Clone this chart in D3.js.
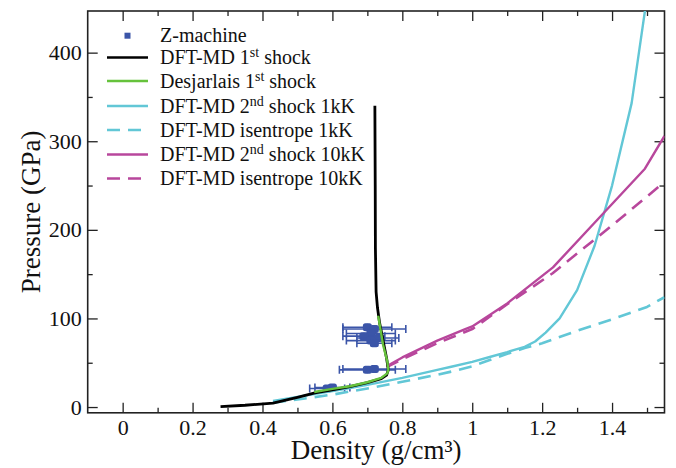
<!DOCTYPE html>
<html>
<head>
<meta charset="utf-8">
<script src="https://cdn.jsdelivr.net/npm/d3@7"></script>
<style>
  body { margin: 0; background: #fff; }
  svg { font-family: "Liberation Serif", "DejaVu Serif", serif; }
</style>
</head>
<body>
<svg></svg>
<script>
// ---- data (density g/cm3, pressure GPa) ----
const zDensity = [0.585, 0.6, 0.70, 0.72, 0.70, 0.72, 0.71, 0.69, 0.73, 0.71, 0.72];
const zPressure = [21, 22, 42, 43, 90, 88, 83, 80, 78, 75, 72];
const zDensityErr = [0.05, 0.05, 0.08, 0.09, 0.07, 0.09, 0.07, 0.06, 0.06, 0.07, 0.05];

const shock1 = [[0.28, 0.5], [0.35, 2], [0.43, 4.5], [0.5, 11], [0.55, 16], [0.6, 19.5],
  [0.65, 23], [0.7, 27.5], [0.74, 32], [0.755, 36], [0.76, 42], [0.755, 55], [0.745, 75],
  [0.735, 95], [0.729, 112], [0.725, 130], [0.723, 180], [0.7225, 250], [0.7215, 340]];
const desjarlais = [[0.548, 17], [0.6, 20.5], [0.65, 23.5], [0.7, 28], [0.74, 33],
  [0.757, 38], [0.76, 42], [0.757, 51.5], [0.745, 70], [0.731, 103]];
const shock2_1kK = [[0.43, 7], [0.5, 11.5], [0.6, 18], [0.65, 21.5], [0.7, 25], [0.8, 33],
  [0.9, 42], [0.94, 45.5], [1.0, 51], [1.05, 56.5], [1.1, 62], [1.15, 68], [1.18, 74],
  [1.21, 84], [1.25, 100], [1.3, 132], [1.35, 182], [1.4, 250], [1.456, 343], [1.494, 447],
  [1.5, 460]];
const isen_1kK = [[0.43, 5], [0.5, 8.5], [0.6, 14], [0.65, 17.5], [0.7, 21], [0.8, 28.5],
  [0.9, 36.5], [0.94, 40], [1.0, 46], [1.05, 53], [1.1, 60], [1.15, 66.5], [1.2, 72],
  [1.3, 86], [1.4, 99], [1.5, 113], [1.55, 124]];
const shock2_10kK = [[0.755, 46], [0.8, 56], [0.9, 75], [0.98, 88], [1.0, 91], [1.1, 117],
  [1.231, 157.6], [1.35, 208], [1.494, 269], [1.55, 306]];
const isen_10kK = [[0.755, 45], [0.8, 54], [0.9, 72], [1.0, 88], [1.1, 116], [1.23, 151],
  [1.4, 205], [1.55, 254]];

const legendLabels = [
  ["Z-machine"],
  ["DFT-MD 1", "st", " shock"],
  ["Desjarlais 1", "st", " shock"],
  ["DFT-MD 2", "nd", " shock 1kK"],
  ["DFT-MD isentrope 1kK"],
  ["DFT-MD 2", "nd", " shock 10kK"],
  ["DFT-MD isentrope 10kK"]
];
const xTicks = [0, 0.2, 0.4, 0.6, 0.8, 1, 1.2, 1.4];
const xMinor = [0.1, 0.3, 0.5, 0.7, 0.9, 1.1, 1.3, 1.5];
const yTicks = [0, 100, 200, 300, 400];
const yMinor = [50, 150, 250, 350];

const width = 676;
const height = 468;
const margin = { top: 11, right: 11.5, bottom: 55.2, left: 87.7 };
const innerWidth = width - margin.left - margin.right;
const innerHeight = height - margin.top - margin.bottom;

const blue = "#3b55a8";
const green = "#66c23c";
const cyan = "#62c7d6";
const magenta = "#b8479c";
const serif = "'Liberation Serif', 'DejaVu Serif', serif";

const svg = d3.select("svg").attr("width", width).attr("height", height);

const xScale = d3.scaleLinear().domain([-0.1, 1.55]).range([0, innerWidth]);
const yScale = d3.scaleLinear().domain([-6.5, 447]).range([innerHeight, 0]);

const g = svg.append("g")
  .attr("transform", `translate(${margin.left},${margin.top})`);

g.append("clipPath").attr("id", "plot-clip")
  .append("rect").attr("width", innerWidth).attr("height", innerHeight);

// axes: ticks point inward on all four sides
const axisStyle = (sel) => {
  sel.attr("font-family", serif);
  sel.select(".domain").remove();
  sel.selectAll(".tick line").attr("stroke", "#222").attr("stroke-width", 1.3);
  sel.selectAll("text").attr("font-size", 22).attr("fill", "#111");
};
// tick marks only, no labels
const tickOnly = (sel) => {
  axisStyle(sel);
  sel.selectAll("text").remove();
};
const fmt = (d) => d3.format("~g")(d);

g.append("g").attr("transform", `translate(0,${innerHeight})`)
  .call(d3.axisBottom(xScale).tickValues(xTicks).tickSizeInner(-10).tickSizeOuter(0)
    .tickPadding(7).tickFormat(fmt))
  .call(axisStyle);
g.append("g").attr("transform", `translate(0,${innerHeight})`)
  .call(d3.axisBottom(xScale).tickValues(xMinor).tickSizeInner(-5))
  .call(tickOnly);
g.append("g")
  .call(d3.axisTop(xScale).tickValues(xTicks).tickSizeInner(-10))
  .call(tickOnly);
g.append("g")
  .call(d3.axisTop(xScale).tickValues(xMinor).tickSizeInner(-5))
  .call(tickOnly);

g.append("g")
  .call(d3.axisLeft(yScale).tickValues(yTicks).tickSizeInner(-10).tickPadding(6).tickFormat(fmt))
  .call(axisStyle);
g.append("g")
  .call(d3.axisLeft(yScale).tickValues(yMinor).tickSizeInner(-5))
  .call(tickOnly);
g.append("g").attr("transform", `translate(${innerWidth},0)`)
  .call(d3.axisRight(yScale).tickValues(yTicks).tickSizeInner(-10))
  .call(tickOnly);
g.append("g").attr("transform", `translate(${innerWidth},0)`)
  .call(d3.axisRight(yScale).tickValues(yMinor).tickSizeInner(-5))
  .call(tickOnly);

// frame
g.append("rect")
  .attr("width", innerWidth).attr("height", innerHeight)
  .attr("fill", "none").attr("stroke", "#222").attr("stroke-width", 1.6);

// Z-machine points with horizontal error bars
const pts = g.append("g").attr("clip-path", "url(#plot-clip)");
const cap = 4;
zDensity.forEach((d, i) => {
  const cx = xScale(d);
  const cy = yScale(zPressure[i]);
  const x0 = xScale(d - zDensityErr[i]);
  const x1 = xScale(d + zDensityErr[i]);
  pts.append("line").attr("x1", x0).attr("x2", x1).attr("y1", cy).attr("y2", cy)
    .attr("stroke", blue).attr("stroke-width", 1.6);
  [x0, x1].forEach((x) => {
    pts.append("line").attr("x1", x).attr("x2", x).attr("y1", cy - cap).attr("y2", cy + cap)
      .attr("stroke", blue).attr("stroke-width", 1.6);
  });
  pts.append("line").attr("x1", cx).attr("x2", cx).attr("y1", cy - 3.5).attr("y2", cy + 3.5)
    .attr("stroke", blue).attr("stroke-width", 1.6);
  pts.append("rect").attr("x", cx - 4.5).attr("y", cy - 4).attr("width", 9).attr("height", 8)
    .attr("rx", 2.5).attr("fill", blue);
});

// curves
const line = d3.line().x((d) => xScale(d[0])).y((d) => yScale(d[1]));
const curves = [
  { data: isen_1kK, color: cyan, dash: "13,8", w: 2.6 },
  { data: shock2_1kK, color: cyan, dash: null, w: 2.4 },
  { data: isen_10kK, color: magenta, dash: "13,8", w: 2.6 },
  { data: shock2_10kK, color: magenta, dash: null, w: 2.4 },
  { data: shock1, color: "#000", dash: null, w: 2.8 },
  { data: desjarlais, color: green, dash: null, w: 2.4 }
];
const cg = g.append("g").attr("clip-path", "url(#plot-clip)");
curves.forEach((c) => {
  cg.append("path").attr("d", line(c.data)).attr("fill", "none")
    .attr("stroke", c.color).attr("stroke-width", c.w)
    .attr("stroke-linejoin", "round")
    .attr("stroke-dasharray", c.dash);
});

// legend
const legendStyles = [
  { color: blue, marker: true },
  { color: "#000", dash: null },
  { color: green, dash: null },
  { color: cyan, dash: null },
  { color: cyan, dash: "13,8" },
  { color: magenta, dash: null },
  { color: magenta, dash: "13,8" }
];
const legY = [35.7, 57.5, 81, 106, 130, 154.5, 178.5];
const lg = svg.append("g").attr("font-family", serif);
legendLabels.forEach((parts, i) => {
  const st = legendStyles[i];
  const y = legY[i];
  if (st.marker) {
    lg.append("rect").attr("x", 124.5).attr("y", y - 3).attr("width", 6).attr("height", 6)
      .attr("fill", st.color);
  } else {
    lg.append("line").attr("x1", 107).attr("x2", 148).attr("y1", y).attr("y2", y)
      .attr("stroke", st.color).attr("stroke-width", 2.6)
      .attr("stroke-dasharray", st.dash);
  }
  const t = lg.append("text").attr("x", 160).attr("y", y + 6.5)
    .attr("font-size", 20).attr("fill", "#111");
  parts.forEach((p, j) => {
    if (j === 1) {
      t.append("tspan").attr("font-size", 14).attr("dy", -7).text(p);
    } else if (j === 2) {
      t.append("tspan").attr("dy", 7).text(p);
    } else {
      t.append("tspan").text(p);
    }
  });
});

// axis titles
svg.append("text")
  .attr("x", margin.left + innerWidth / 2).attr("y", 459)
  .attr("font-family", serif)
  .attr("text-anchor", "middle").attr("font-size", 27).attr("fill", "#111")
  .text("Density (g/cm³)");
svg.append("text")
  .attr("transform", `translate(40,${margin.top + innerHeight / 2}) rotate(-90)`)
  .attr("font-family", serif)
  .attr("text-anchor", "middle").attr("font-size", 27).attr("fill", "#111")
  .text("Pressure (GPa)");
</script>
</body>
</html>
